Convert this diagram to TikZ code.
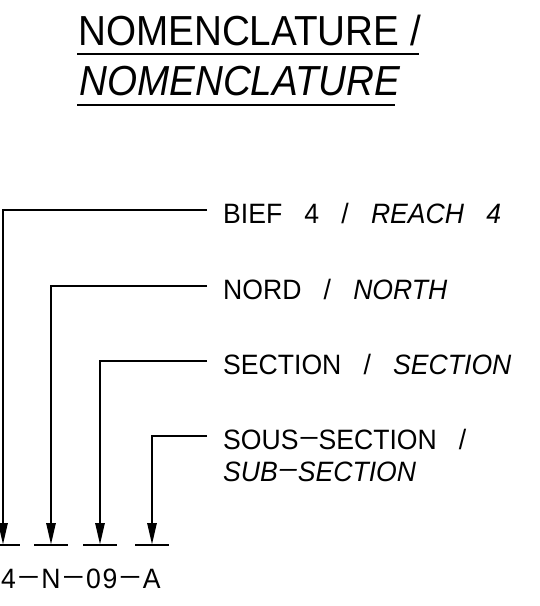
\documentclass[tikz,border=0pt]{standalone}
\usepackage{fontspec}
\usetikzlibrary{arrows.meta}
\newfontfamily\titlefont[FakeStretch=0.92]{Liberation Sans}
\newfontfamily\cadfont[FakeStretch=0.95,WordSpace=3]{Liberation Sans}
\newfontfamily\codefont[FakeStretch=0.95,LetterSpace=6]{Liberation Sans}
\def\cdash{\kern2pt\raisebox{3.5pt}{\scalebox{1.15}[1]{–}}\kern1pt}
\def\codedash{\kern3.5pt\raisebox{3.5pt}{\scalebox{1.25}[1]{–}}\kern3.5pt}

\tikzset{
	leader/.style={line width=2.8pt, -{Triangle[length=22pt,width=9pt]}},
	uline/.style={line width=2.8pt},
	tickbar/.style={line width=2.8pt},
	lbl/.style={anchor=base west, inner xsep=16pt, inner ysep=0pt, font=\cadfont\fontsize{28}{32}\selectfont},
	ttl/.style={anchor=base west, inner sep=0pt, font=\titlefont\fontsize{42}{46}\selectfont}
}

\begin{document}
\begin{tikzpicture}[x=1pt,y=-1pt]
			%%%%% START %%%%%
			\useasboundingbox (0,0) rectangle (540,606);
			
			\node[ttl] (ttlfr) at (78,45) {NOMENCLATURE /};
			\node[ttl] (ttlen) at (79,95) {\itshape NOMENCLATURE};
			\draw[uline] ([xshift=-1pt,yshift=-9pt]ttlfr.base west) -- ([xshift=-2pt,yshift=-9pt]ttlfr.base east);
			\draw[uline] ([xshift=-2pt,yshift=-10pt]ttlen.base west) -- ([xshift=-6pt,yshift=-10pt]ttlen.base east);
			
			\node[lbl] (bief) at (207,223) {BIEF 4 / \textit{REACH 4}};
			\node[lbl] (nord) at (207,299) {NORD / \textit{NORTH}};
			\node[lbl] (sect) at (207,374) {SECTION / \textit{SECTION}};
			\node[lbl] (sous) at (207,449) {SOUS\cdash SECTION /};
			\node[lbl] (sub) at (207,481) {\itshape SUB\cdash SECTION};
			
			\coordinate (tipa) at (3,545);
			\coordinate (tipb) at (51,545);
			\coordinate (tipc) at (100,545);
			\coordinate (tipd) at (152,545);
			
			\draw[leader] ([yshift=13pt]bief.base west) -| (tipa);
			\draw[leader] ([yshift=13pt]nord.base west) -| (tipb);
			\draw[leader] ([yshift=13pt]sect.base west) -| (tipc);
			\draw[leader] ([yshift=13pt]sous.base west) -| (tipd);
			
			\foreach \t in {tipa,tipb,tipc,tipd}
				\draw[tickbar] ([xshift=-17pt]\t) -- ([xshift=17pt]\t);
			
			\node[anchor=base west, inner sep=0pt, font=\codefont\fontsize{28}{32}\selectfont] (code) at (1,588) {4\codedash N\codedash 09\codedash A};
			
			%%%%% END %%%%%
\end{tikzpicture}
\end{document}
